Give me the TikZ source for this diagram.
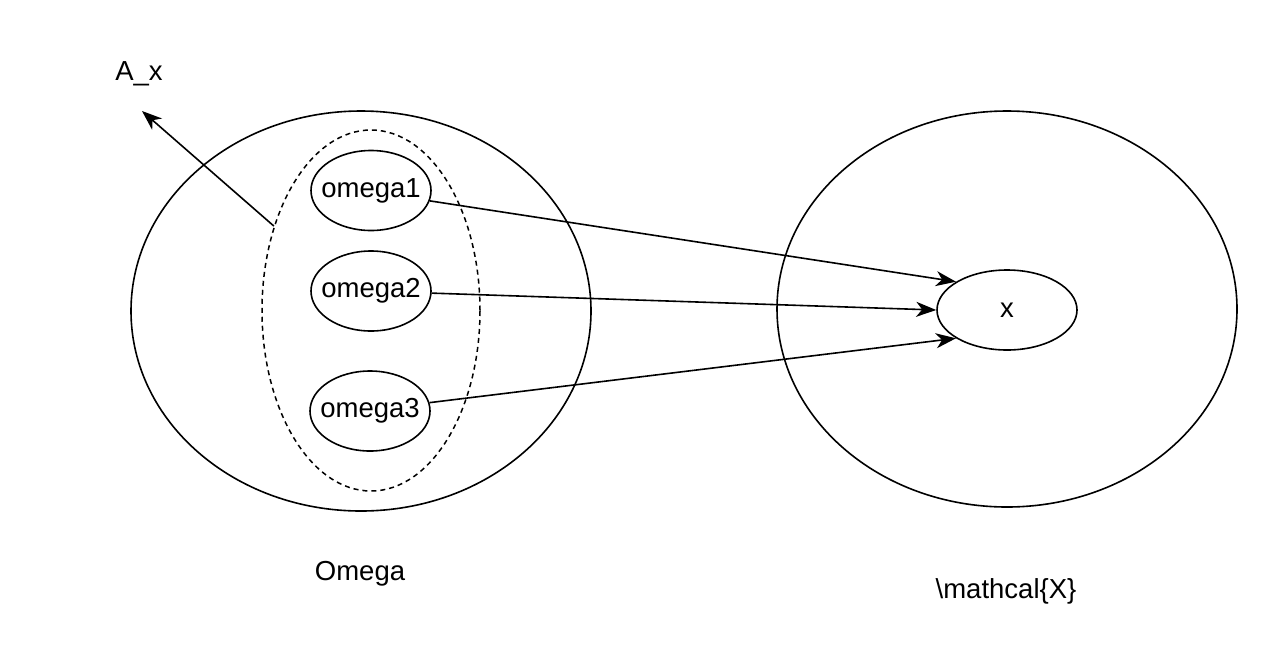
\documentclass[tikz,border=0pt]{standalone}
\usepackage{fontspec}
\setmainfont{Liberation Sans}
\usetikzlibrary{shapes.geometric,arrows.meta}
\newcommand{\ctext}[1]{\makebox[0pt]{\raisebox{-3pt}{#1}}}
\begin{document}
\begin{tikzpicture}[x=1pt,y=-1pt,
  every node/.style={font=\fontsize{27.5}{33}\selectfont},
  ell/.style={ellipse,draw,line width=1.6pt,inner sep=0pt},
  dashell/.style={ellipse,draw,line width=1.5pt,inner sep=0pt,dash pattern=on 5pt off 4pt},
  conn/.style={line width=1.6pt,-{Stealth[length=20pt,width=15pt,inset=6pt]}},
  lbl/.style={inner sep=0pt}]
\useasboundingbox (0,0) rectangle (1268,662);
% big sets
\node[ell,minimum width=460pt,minimum height=400pt] (Om) at (361,311) {};
\node[ell,minimum width=460pt,minimum height=396pt] (X) at (1007,309) {};
% dashed subset
\node[dashell,minimum width=218pt,minimum height=361pt] (Ax) at (371,310.5) {};
% elements
\node[ell,minimum width=120pt,minimum height=80pt] (o1) at (371,190.5) {\ctext{omega1}};
\node[ell,minimum width=120pt,minimum height=80pt] (o2) at (371,291) {\ctext{omega2}};
\node[ell,minimum width=120pt,minimum height=80pt] (o3) at (370,411) {\ctext{omega3}};
\node[ell,minimum width=140pt,minimum height=80pt] (xn) at (1007,310) {\ctext{x}};
% labels
\node[lbl] (lAx) at (139,74) {A\_x};
\node[lbl] (lOm) at (360,574) {Omega};
\node[lbl] (lX) at (1006,591) {\textbackslash mathcal\{X\}};
% connectors
\coordinate (axtip) at (142,111);
\draw[conn] (o1.-10) -- (xn.151);
\draw[conn] (o2.-2) -- (xn.180);
\draw[conn] (o3.8) -- (xn.-151);
\draw[conn] (Ax.139) -- (axtip);
\end{tikzpicture}
\end{document}
